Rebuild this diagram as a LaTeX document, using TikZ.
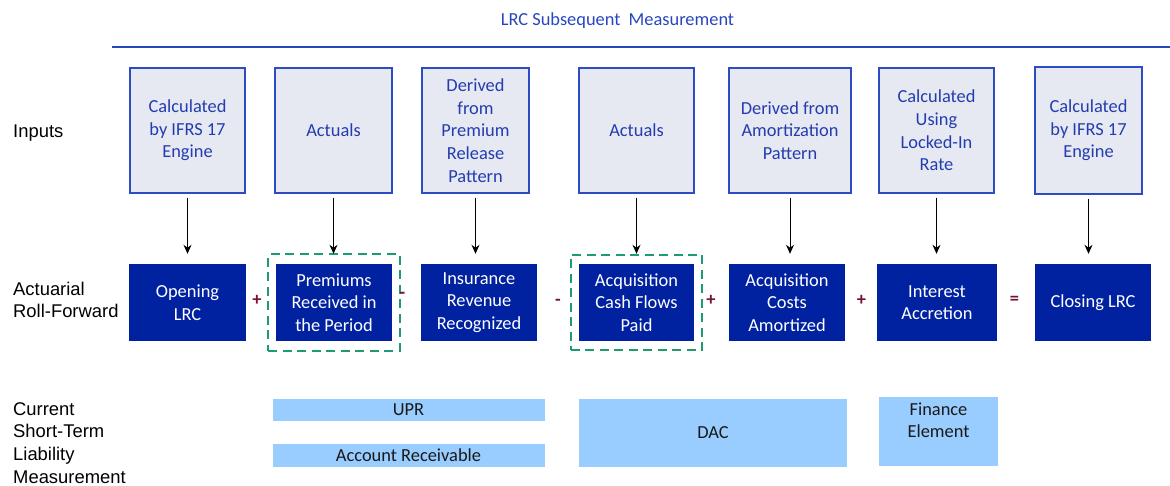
\documentclass[tikz,border=0pt]{standalone}
\usepackage{fontspec}
\setmainfont{Carlito}
\newfontfamily\arialf{Liberation Sans}
\usetikzlibrary{fit,arrows.meta}
\definecolor{titleblue}{RGB}{40,70,190}
\definecolor{inputfill}{RGB}{231,233,242}
\definecolor{inputdraw}{RGB}{45,75,195}
\definecolor{inputtext}{RGB}{35,60,175}
\definecolor{navy}{RGB}{0,34,160}
\definecolor{lightbar}{RGB}{153,204,255}
\definecolor{opcol}{RGB}{120,15,60}
\definecolor{dashgreen}{RGB}{30,155,115}
\tikzset{
  txt/.style={font=\fontsize{18.4}{22.6}\selectfont, align=center},
  inputbox/.style={txt, draw=inputdraw, line width=1.3pt, fill=inputfill, text=inputtext, minimum height=125pt, inner sep=2pt},
  rollbox/.style={txt, fill=navy, text=white, minimum height=77pt, inner sep=2pt},
  barbox/.style={txt, fill=lightbar, text=black!90, inner sep=0pt},
  opsign/.style={font=\fontsize{18.4}{20}\selectfont\bfseries, text=opcol, inner sep=0pt},
  dashbox/.style={draw=dashgreen, line width=1.8pt, dash pattern=on 9pt off 5.5pt},
  rowlabel/.style={font=\arialf\fontsize{18.4}{22.8}\selectfont, align=left, anchor=west, inner sep=0pt},
  feed/.style={-{Stealth[length=9pt,width=8pt]}, line width=1pt, shorten <=4pt, shorten >=10pt},
}
\begin{document}
\begin{tikzpicture}[x=1pt,y=-1pt]
\useasboundingbox (0,0) rectangle (1170,486);

% title and rule
\node[txt, text=titleblue] (title) at (617.5,20.5) {LRC Subsequent\hspace{0.22em} Measurement};
\coordinate (ruleL) at (112,47);
\coordinate (ruleR) at (1170,47);
\draw[titleblue, line width=1.6pt] (ruleL) -- (ruleR);

% row labels
\node[rowlabel] (lab1) at (13,133) {Inputs};
\node[rowlabel] (lab2) at (13,300) {Actuarial\\Roll-Forward};
\node[rowlabel] (lab3) at (13,443) {Current\\Short-Term\\Liability\\Measurement};

% input boxes
\node[inputbox, minimum width=115pt] (in1) at (187.5,130.5) {Calculated\\by IFRS 17\\Engine};
\node[inputbox, minimum width=117pt] (in2) at (333.5,130.5) {Actuals};
\node[inputbox, minimum width=107pt] (in3) at (475.5,130.5) {Derived\\from\\Premium\\Release\\Pattern};
\node[inputbox, minimum width=115pt] (in4) at (636.5,130.5) {Actuals};
\node[inputbox, minimum width=122pt] (in5) at (790,130.5) {Derived from\\Amortization\\Pattern};
\node[inputbox, minimum width=115pt] (in6) at (936.5,130.5) {Calculated\\Using\\Locked-In\\Rate};
\node[inputbox, minimum width=107pt, minimum height=127pt] (in7) at (1088.5,130.5) {Calculated\\by IFRS 17\\Engine};

% roll-forward boxes
\node[rollbox, minimum width=117pt] (rf1) at (187.5,302.5) {Opening\\LRC};
\node[rollbox, minimum width=116pt] (rf2) at (334,302.5) {Premiums\\Received in\\the Period};
\node[rollbox, minimum width=116pt] (rf3) at (479,302.5) {Insurance\\Revenue\\Recognized};
\node[rollbox, minimum width=115pt] (rf4) at (636.5,302.5) {Acquisition\\Cash Flows\\Paid};
\node[rollbox, minimum width=116pt] (rf5) at (787,302.5) {Acquisition\\Costs\\Amortized};
\node[rollbox, minimum width=120pt] (rf6) at (937,302.5) {Interest\\Accretion};
\node[rollbox, minimum width=116pt] (rf7) at (1093,302.5) {Closing LRC};

% dashed highlights
\node[dashbox, fit=(rf2), inner xsep=7.5pt, inner ysep=9.5pt] (hl1) {};
\node[dashbox, fit=(rf4), inner xsep=8pt, inner ysep=9pt] (hl2) {};

% operators
\node[opsign] (op1) at (257,300) {+};
\node[opsign] (op2) at (402.5,295) {-};
\node[opsign] (op3) at (558,302) {-};
\node[opsign] (op4) at (711,300) {+};
\node[opsign] (op5) at (861.5,300) {+};
\node[opsign] (op6) at (1014.5,300) {=};

% feed arrows
\foreach \i in {1,...,7}{
  \draw[feed] (in\i.south) -- (in\i.south |- rf\i.north);
}

% bars
\node[barbox, minimum width=272pt, minimum height=22pt] (upr) at (408.5,410) {UPR};
\node[barbox, minimum width=272pt, minimum height=23pt] (ar) at (408.5,455.5) {Account Receivable};
\node[barbox, minimum width=268pt, minimum height=68pt] (dac) at (713,433) {DAC};
\node[barbox, minimum width=119pt, minimum height=69pt] (fin) at (938.5,431.5) {Finance\\Element\\\mbox{}};
\end{tikzpicture}
\end{document}
